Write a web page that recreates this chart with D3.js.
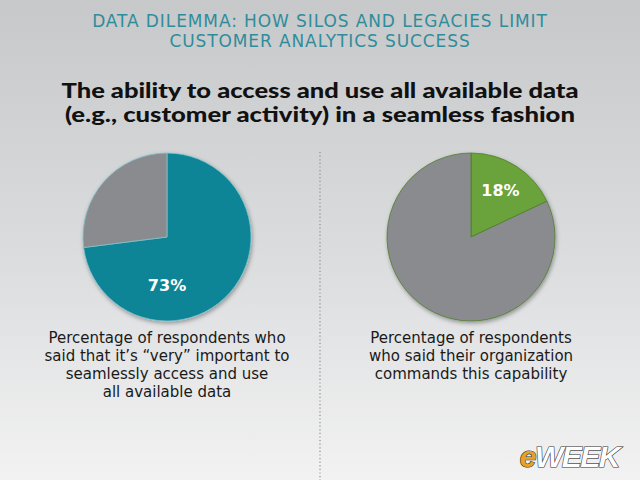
<!DOCTYPE html>
<html>
<head>
<meta charset="utf-8">
<script src="https://cdn.jsdelivr.net/npm/d3@7"></script>
<style>
  html, body { margin: 0; padding: 0; background: #dcdcdd; }
  svg { display: block; }
</style>
</head>
<body>
<script>
// Chart data
const titleLines = ["DATA DILEMMA: HOW SILOS AND LEGACIES LIMIT", "CUSTOMER ANALYTICS SUCCESS"];
const subtitleLines = ["The ability to access and use all available data", "(e.g., customer activity) in a seamless fashion"];
const pieLabels = ["Very important", "Commands capability"];
const pieValues = [73, 18];
const pieColors = ["#0e8596", "#6aa23a"];
const captions = [
  ["Percentage of respondents who", "said that it\u2019s \u201cvery\u201d important to", "seamlessly access and use", "all available data"],
  ["Percentage of respondents", "who said their organization", "commands this capability"]
];

// layout: rendered widths of the two subtitle lines
const subtitleWidths = [517, 510];

const W = 640, H = 480;
const svg = d3.select("body").append("svg")
  .attr("width", W)
  .attr("height", H);

const defs = svg.append("defs");
const bg = defs.append("linearGradient")
  .attr("id", "bg").attr("x1", 0).attr("y1", 0).attr("x2", 0).attr("y2", 1);
bg.append("stop").attr("offset", "0%").attr("stop-color", "#c7c8ca");
bg.append("stop").attr("offset", "55%").attr("stop-color", "#dcdddf");
bg.append("stop").attr("offset", "100%").attr("stop-color", "#f2f2f2");

const shadow = defs.append("filter").attr("id", "shadow")
  .attr("x", "-20%").attr("y", "-20%").attr("width", "140%").attr("height", "140%");
shadow.append("feDropShadow")
  .attr("dx", 1).attr("dy", 2).attr("stdDeviation", 2)
  .attr("flood-color", "#000").attr("flood-opacity", 0.35);

svg.append("rect").attr("width", W).attr("height", H).attr("fill", "url(#bg)");

// Title
svg.append("g").selectAll("text")
  .data(titleLines)
  .enter().append("text")
  .attr("x", W / 2)
  .attr("y", (d, i) => 27 + i * 20)
  .attr("text-anchor", "middle")
  .attr("font-family", "'DejaVu Sans', sans-serif")
  .attr("font-size", "17px")
  .attr("letter-spacing", "0.9px")
  .attr("fill", "#2f8d9b")
  .text(d => d);

svg.append("g").selectAll("text")
  .data(subtitleLines)
  .enter().append("text")
  .attr("x", W / 2)
  .attr("y", (d, i) => 98 + i * 24)
  .attr("text-anchor", "middle")
  .attr("font-family", "Lato, sans-serif")
  .attr("font-weight", "900")
  .attr("font-size", "20px")
  .attr("textLength", (d, i) => subtitleWidths[i])
  .attr("lengthAdjust", "spacingAndGlyphs")
  .attr("fill", "#111")
  .text(d => d);

// Divider
svg.append("line")
  .attr("x1", 320).attr("x2", 320)
  .attr("y1", 152).attr("y2", H)
  .attr("stroke", "#8f9092")
  .attr("stroke-width", 1.2)
  .attr("stroke-dasharray", "1.2,2.4");

// Pies
const centers = d3.scalePoint().domain(pieLabels).range([167, 471]);
const radius = 84;
const pie = d3.pie().sort(null).value(d => d);
const arc = d3.arc().innerRadius(0).outerRadius(radius);

pieLabels.forEach((name, i) => {
  const g = svg.append("g")
    .attr("transform", `translate(${centers(name)},237)`);
  const arcs = pie([pieValues[i], 100 - pieValues[i]]);
  g.append("g").attr("filter", "url(#shadow)")
    .selectAll("path")
    .data(arcs)
    .enter().append("path")
    .attr("d", arc)
    .attr("fill", (d, j) => j === 0 ? pieColors[i] : "#8a8b8f")
    .attr("stroke", i === 0 ? "#7fc3cc" : "#4f7d2a")
    .attr("stroke-width", 0.8);
  // big slice label sits at the bottom, small slice label at its centroid
  const a = arcs[0];
  const big = a.endAngle - a.startAngle > Math.PI;
  const ang = big ? Math.PI : (a.startAngle + a.endAngle) / 2;
  const rr = big ? 48 : 55;
  g.append("text")
    .attr("x", Math.sin(ang) * rr)
    .attr("y", -Math.cos(ang) * rr)
    .attr("dy", "0.35em")
    .attr("text-anchor", "middle")
    .attr("font-family", "'DejaVu Sans', sans-serif")
    .attr("font-weight", "bold")
    .attr("font-size", "16px")
    .attr("fill", "#fff")
    .text(pieValues[i] + "%");

  svg.append("g").selectAll("text")
    .data(captions[i])
    .enter().append("text")
    .attr("x", centers(name))
    .attr("y", (d, k) => 343 + k * 18)
    .attr("text-anchor", "middle")
    .attr("font-family", "'DejaVu Sans', sans-serif")
    .attr("font-size", "15px")
    .attr("fill", "#1a1a1a")
    .text(d => d);
});

// Logo
const logo = svg.append("text")
  .attr("x", 619)
  .attr("y", 467)
  .attr("text-anchor", "end")
  .attr("font-family", "'Liberation Sans', sans-serif")
  .attr("font-weight", "bold")
  .attr("font-style", "italic")
  .attr("font-size", "30px")
  .attr("letter-spacing", "-1.5px")
  .attr("stroke", "#333")
  .attr("stroke-width", 1.2)
  .attr("paint-order", "stroke");
logo.append("tspan").attr("fill", "#e9a02a").text("e");
logo.append("tspan").attr("fill", "#ffffff").text("WEEK");
</script>
</body>
</html>
